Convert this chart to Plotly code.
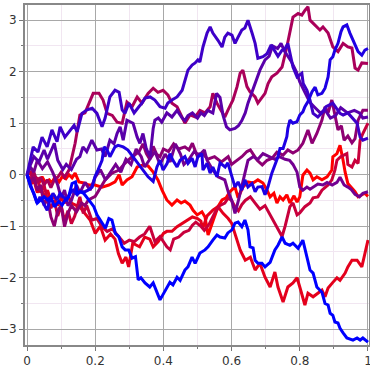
import plotly.graph_objects as go

# ---- data ----
x_red = [0,0.015,0.026,0.035,0.044,0.053,0.065,0.073,0.082,0.094,0.103,0.114,0.123,0.132,0.141,0.152,0.167,0.182,0.199,0.22,0.24,0.258,0.27,0.279,0.293,0.308,0.323,0.34,0.355,0.37,0.384,0.396,0.41,0.425,0.44,0.452,0.463,0.478,0.487,0.499,0.513,0.522,0.531,0.543,0.551,0.56,0.572,0.584,0.595,0.61,0.619,0.633,0.648,0.663,0.677,0.692,0.704,0.713,0.724,0.733,0.742,0.751,0.762,0.771,0.783,0.792,0.8,0.809,0.821,0.83,0.839,0.85,0.865,0.88,0.894,0.897,0.909,0.918,0.927,0.933,0.941,0.953,0.962,0.971,0.982,0.991,1.0]
y_red = [0,0.05,-0.06,-0.16,-0.04,-0.14,-0.1,-0.16,-0.04,-0.14,-0.04,-0.08,0,-0.06,0.03,-0.14,-0.16,-0.2,-0.2,-0.24,-0.2,-0.14,0,-0.2,-0.1,-0.04,0.15,0.19,0.17,0.05,-0.1,-0.3,-0.49,-0.59,-0.49,-0.55,-0.51,-0.59,-0.69,-0.78,-0.72,-0.82,-1.17,-0.94,-0.75,-0.62,-0.49,-0.45,-0.33,-0.24,-0.45,-0.24,-0.14,-0.16,-0.1,-0.16,-0.3,-0.43,-0.36,-0.55,-0.43,-0.49,-0.39,-0.55,-0.41,-0.53,-0.43,-0.01,0.09,0.03,-0.1,-0.04,-0.1,-0.04,0.09,0.35,0.41,0.57,0.28,0.05,-0.17,-0.27,-0.33,-0.43,-0.39,-0.36,-0.42]

x_scarlet = [0,0.01,0.02,0.03,0.04,0.05,0.06,0.07,0.08,0.09,0.1,0.11,0.12,0.13,0.155,0.17,0.185,0.2,0.215,0.229,0.245,0.258,0.268,0.279,0.29,0.298,0.31,0.33,0.345,0.36,0.37,0.385,0.4,0.41,0.425,0.44,0.455,0.47,0.485,0.5,0.51,0.515,0.528,0.545,0.56,0.575,0.59,0.6,0.615,0.625,0.64,0.655,0.669,0.683,0.698,0.713,0.727,0.736,0.751,0.765,0.78,0.792,0.8,0.815,0.824,0.839,0.853,0.865,0.874,0.883,0.897,0.909,0.918,0.933,0.941,0.953,0.968,0.982,0.991,1.0]
y_scarlet = [0,-0.2,-0.1,-0.35,-0.2,-0.45,-0.3,-0.5,-0.4,-0.6,-0.45,-0.55,-0.4,-0.55,-0.63,-0.75,-0.88,-1.14,-1.0,-1.27,-1.15,-1.25,-1.53,-1.72,-1.6,-1.79,-1.33,-1.4,-1.21,-1.25,-1.4,-1.3,-1.14,-1.1,-1.1,-1.01,-0.95,-0.88,-0.82,-0.85,-0.9,-1.05,-0.8,-0.69,-0.62,-0.75,-0.85,-0.94,-1.27,-1.46,-1.66,-1.6,-1.85,-1.72,-1.99,-2.18,-1.89,-2.18,-2.47,-2.18,-2.1,-2.0,-2.18,-2.53,-2.3,-2.37,-2.3,-2.24,-2.37,-2.2,-2.09,-2.0,-2.05,-1.91,-1.79,-1.66,-1.66,-1.79,-1.53,-1.27]

x_crimson = [0,0.01,0.02,0.03,0.04,0.05,0.06,0.07,0.08,0.09,0.1,0.11,0.12,0.13,0.14,0.155,0.165,0.175,0.19,0.205,0.22,0.235,0.25,0.27,0.285,0.3,0.315,0.33,0.345,0.36,0.375,0.39,0.4,0.41,0.42,0.43,0.445,0.46,0.475,0.485,0.495,0.51,0.52,0.535,0.55,0.565,0.58,0.59,0.6,0.61,0.62,0.63,0.64,0.655,0.669,0.683,0.698,0.713,0.727,0.742,0.748,0.757,0.765,0.771,0.78,0.792,0.8,0.815,0.83,0.839,0.853,0.865,0.883,0.894,0.903,0.909,0.92,0.938,0.941,0.953,0.962,0.971,0.977,0.985,1.0]
y_crimson = [0,0.05,-0.15,-0.05,-0.35,-0.2,-0.5,-0.65,-0.5,-0.8,-0.6,-0.9,-0.7,-0.95,-0.8,-0.43,-0.75,-0.6,-0.88,-0.85,-1.01,-1.1,-1.05,-1.21,-1.33,-1.27,-1.3,-1.21,-1.15,-1.0,-1.3,-1.2,-1.3,-1.4,-1.46,-1.25,-1.21,-1.12,-1.08,-0.98,-0.92,-1.0,-1.08,-0.95,-0.75,-0.6,-0.55,-0.45,-0.5,-0.62,-0.7,-0.58,-0.5,-0.43,-0.55,-0.67,-0.6,-0.78,-0.94,-1.14,-1.2,-1.0,-0.8,-0.62,-0.55,-0.78,-0.74,-0.62,-0.55,-0.45,-0.43,-0.3,-0.2,-0.1,0.09,0.28,0.35,0.41,0.2,0.15,0.28,0.22,0.67,0.8,1.0]

x_magenta = [0,0.01,0.02,0.03,0.04,0.05,0.06,0.07,0.08,0.09,0.1,0.11,0.123,0.132,0.141,0.155,0.17,0.182,0.194,0.211,0.223,0.235,0.25,0.264,0.279,0.293,0.308,0.323,0.337,0.355,0.37,0.384,0.399,0.413,0.425,0.44,0.455,0.463,0.478,0.493,0.507,0.522,0.537,0.545,0.557,0.566,0.58,0.589,0.604,0.616,0.625,0.633,0.645,0.654,0.669,0.677,0.692,0.698,0.707,0.718,0.733,0.748,0.762,0.771,0.78,0.795,0.806,0.815,0.824,0.83,0.839,0.85,0.859,0.868,0.883,0.897,0.912,0.927,0.941,0.953,0.962,0.971,0.982,1.0]
y_magenta = [0,-0.1,0.05,-0.15,-0.05,-0.2,-0.1,-0.25,-0.1,-0.05,0.05,-0.05,0.09,0.35,0.61,1.16,1.2,1.39,1.58,1.58,1.45,1.19,1.15,1.02,1.0,1.41,1.32,1.51,1.39,1.58,1.68,1.6,1.64,1.55,1.39,1.32,1.12,1.0,1.16,1.12,1.25,1.2,1.32,1.58,1.39,1.29,1.12,1.25,1.45,1.71,1.97,2.03,1.71,1.61,1.51,1.39,1.51,1.58,1.77,1.9,1.97,2.09,2.48,2.75,3.06,3.13,3.1,3.19,3.26,3.0,2.94,2.87,2.81,2.87,2.75,2.48,2.39,2.55,2.48,2.46,2.07,2.03,2.17,2.16]

x_purple = [0,0.01,0.02,0.03,0.04,0.05,0.06,0.07,0.08,0.09,0.1,0.11,0.12,0.13,0.145,0.16,0.17,0.18,0.2,0.215,0.229,0.249,0.27,0.287,0.308,0.328,0.34,0.35,0.36,0.37,0.38,0.39,0.4,0.415,0.43,0.445,0.463,0.475,0.485,0.5,0.515,0.53,0.55,0.57,0.59,0.6,0.615,0.63,0.645,0.655,0.675,0.69,0.704,0.719,0.733,0.751,0.765,0.78,0.795,0.809,0.824,0.836,0.85,0.865,0.874,0.883,0.894,0.903,0.912,0.922,0.93,0.941,0.953,0.962,0.971,0.985,1.0]
y_purple = [0,-0.15,-0.05,-0.3,-0.2,-0.6,-0.45,-0.82,-1.0,-0.7,-0.6,-1.01,-0.75,-0.6,-0.72,-0.55,-0.6,-0.49,-0.42,-0.24,-0.1,0.03,0.09,0.22,0.35,0.44,0.6,0.41,0.3,0.55,0.4,0.35,0.5,0.45,0.6,0.5,0.54,0.48,0.61,0.35,0.41,0.3,0.35,0.25,0.35,0.2,0.28,0.35,0.45,0.48,0.28,0.19,0.28,0.32,0.44,0.38,0.48,0.42,0.48,0.61,0.87,0.61,0.8,1.06,1.32,1.2,1.45,1.19,0.87,0.95,0.67,0.75,0.62,0.7,1.06,1.25,1.25]

x_plum = [0,0.01,0.02,0.03,0.045,0.06,0.075,0.09,0.1,0.11,0.12,0.13,0.145,0.155,0.17,0.185,0.2,0.215,0.23,0.245,0.26,0.275,0.29,0.305,0.32,0.335,0.345,0.36,0.375,0.39,0.405,0.42,0.435,0.45,0.46,0.475,0.49,0.5,0.51,0.52,0.528,0.545,0.56,0.58,0.59,0.6,0.61,0.62,0.63,0.64,0.648,0.663,0.677,0.692,0.71,0.727,0.74,0.757,0.77,0.78,0.792,0.8,0.809,0.821,0.83,0.839,0.853,0.868,0.88,0.895,0.909,0.918,0.93,0.941,0.95,0.962,0.975,0.985,1.0]
y_plum = [0,0.15,0.05,0.28,0.12,0.25,0.05,-0.2,-0.45,-0.3,-0.6,-0.5,-0.2,-0.35,-0.15,-0.3,-0.05,0.1,-0.1,0.05,0.2,0.05,0.3,0.2,0.5,0.35,0.15,0.3,0.45,0.2,0.4,0.25,0.6,0.4,0.2,0.3,0.45,0.4,0.41,0.48,0.28,0.09,-0.04,-0.1,-0.33,-0.49,-0.75,-0.5,-0.24,0.03,0.28,0.35,0.3,0.41,0.35,0.3,0.35,0.3,0.28,0.2,0.05,-0.24,-0.3,-0.24,-0.28,-0.24,-0.18,-0.2,-0.15,-0.2,-0.15,-0.05,-0.2,-0.24,-0.28,-0.38,-0.43,-0.36,-0.33]

x_violet = [0,0.008,0.02,0.035,0.05,0.06,0.08,0.09,0.105,0.115,0.13,0.145,0.155,0.164,0.175,0.19,0.205,0.218,0.229,0.243,0.255,0.264,0.273,0.282,0.293,0.311,0.323,0.331,0.34,0.35,0.361,0.37,0.375,0.385,0.395,0.41,0.425,0.44,0.455,0.463,0.472,0.485,0.5,0.51,0.52,0.53,0.545,0.556,0.566,0.575,0.585,0.595,0.61,0.62,0.63,0.64,0.648,0.66,0.669,0.683,0.698,0.71,0.72,0.735,0.745,0.755,0.765,0.775,0.79,0.8,0.815,0.83,0.845,0.86,0.875,0.89,0.905,0.92,0.94,0.96,0.975,0.985,1.0]
y_violet = [0,0.16,0.35,0.25,0.48,0.3,0.61,0.28,0.1,0.2,0.1,0.3,0.35,0.54,0.45,0.67,0.48,0.5,0.35,0.67,0.6,0.8,0.93,0.67,1.06,1.0,0.73,0.61,0.8,0.5,0.35,0.9,1.06,1.1,1.02,1.2,1.12,1.25,1.1,1.05,1.15,1.2,1.1,1.2,1.15,1.25,1.2,1.58,1.5,1.15,0.93,0.87,0.9,0.95,1.05,1.2,1.39,1.6,1.77,2.03,2.23,2.3,2.5,2.45,2.55,2.4,2.3,2.2,2.0,1.8,1.6,1.4,1.3,1.2,1.25,1.1,1.15,1.3,1.2,1.25,1.2,1.1,1.12]

x_indigo = [0,0.009,0.018,0.032,0.044,0.059,0.073,0.088,0.097,0.111,0.126,0.138,0.147,0.161,0.176,0.191,0.205,0.22,0.229,0.243,0.258,0.27,0.279,0.287,0.299,0.314,0.328,0.338,0.346,0.361,0.375,0.39,0.405,0.413,0.425,0.44,0.455,0.463,0.472,0.484,0.493,0.501,0.507,0.516,0.528,0.537,0.545,0.56,0.572,0.58,0.589,0.601,0.61,0.619,0.63,0.639,0.648,0.66,0.669,0.677,0.692,0.704,0.716,0.727,0.736,0.748,0.757,0.765,0.771,0.78,0.792,0.806,0.81,0.821,0.83,0.839,0.853,0.865,0.877,0.897,0.918,0.927,0.941,0.956,0.968,0.977,0.985,1.0]
y_indigo = [0,0.28,0.54,0.44,0.73,0.54,0.87,0.64,0.93,0.73,0.87,0.96,0.83,1.19,1.26,1.29,1.19,0.93,1.1,1.51,1.64,1.6,1.26,1.19,1.39,1.2,1.32,1.4,1.49,1.51,1.45,1.32,1.29,1.39,1.45,1.51,1.64,1.84,2.03,2.13,2.17,2.23,2.19,2.48,2.75,2.87,2.75,2.61,2.48,2.67,2.75,2.71,2.55,2.67,2.81,2.85,3.0,2.75,2.55,2.26,2.29,2.35,2.52,2.4,2.3,2.42,2.45,2.55,2.35,2.09,1.9,1.97,1.77,1.64,1.45,1.19,1.12,1.2,1.32,1.39,1.19,1.16,1.2,1.1,1.0,0.73,0.67,0.71]

x_royal = [0,0.009,0.018,0.029,0.038,0.047,0.059,0.067,0.076,0.088,0.097,0.106,0.117,0.126,0.135,0.147,0.155,0.17,0.179,0.191,0.199,0.208,0.22,0.226,0.235,0.243,0.258,0.267,0.282,0.296,0.311,0.326,0.34,0.355,0.37,0.381,0.39,0.399,0.411,0.419,0.428,0.44,0.449,0.463,0.472,0.484,0.493,0.501,0.513,0.516,0.528,0.537,0.545,0.557,0.566,0.581,0.589,0.601,0.61,0.619,0.63,0.639,0.648,0.66,0.669,0.677,0.689,0.698,0.707,0.718,0.727,0.736,0.742,0.751,0.762,0.765,0.771,0.78,0.792,0.8,0.809,0.815,0.824,0.836,0.845,0.853,0.865,0.874,0.883,0.889,0.897,0.903,0.912,0.921,0.927,0.938,0.947,0.959,0.971,0.982,0.991,1.0]
y_royal = [0,-0.16,-0.36,-0.55,-0.43,-0.55,-0.69,-0.49,-0.36,-0.49,-0.36,-0.43,-0.49,-0.36,-0.3,-0.39,-0.33,-0.33,-0.3,-0.24,-0.04,0.09,0.28,0.54,0.48,0.35,0.54,0.57,0.54,0.48,0.35,0.22,0.09,-0.04,-0.13,0.15,0.28,0.09,0.22,0.41,0.28,0.15,0.28,0.35,0.22,0.32,0.15,0.35,0.41,0.09,0.22,0.03,0.15,-0.04,0.23,0.15,0.23,-0.04,-0.24,-0.14,-0.3,-0.1,-0.24,-0.17,-0.33,-0.24,-0.23,-0.39,-0.23,0.03,0.19,0.35,0.51,0.51,0.74,0.9,1.06,1.0,1.03,1.16,1.22,1.32,1.42,1.61,1.7,1.55,1.58,1.68,1.9,2.23,2.29,2.42,2.55,2.78,2.87,2.91,2.75,2.58,2.39,2.32,2.42,2.45]

x_blue = [0,0.01,0.02,0.03,0.04,0.05,0.06,0.07,0.08,0.093,0.103,0.112,0.122,0.132,0.142,0.147,0.156,0.166,0.181,0.196,0.205,0.215,0.23,0.24,0.249,0.259,0.269,0.279,0.288,0.298,0.308,0.318,0.326,0.334,0.346,0.36,0.37,0.39,0.405,0.419,0.428,0.44,0.449,0.463,0.472,0.484,0.493,0.507,0.522,0.531,0.545,0.557,0.566,0.58,0.589,0.601,0.61,0.619,0.63,0.639,0.648,0.654,0.663,0.669,0.677,0.689,0.698,0.713,0.727,0.736,0.748,0.757,0.771,0.78,0.795,0.809,0.821,0.83,0.839,0.85,0.865,0.874,0.883,0.889,0.897,0.903,0.912,0.918,0.927,0.938,0.956,0.968,0.977,0.985,1.0]
y_blue = [0,-0.23,-0.36,-0.55,-0.49,-0.43,-0.49,-0.43,-0.62,-0.52,-0.59,-0.49,-0.43,-0.17,-0.14,-0.36,-0.33,-0.36,-0.49,-0.62,-0.78,-0.88,-1.04,-0.85,-0.88,-1.14,-1.2,-1.4,-1.46,-1.46,-1.62,-1.59,-2.04,-2.0,-2.1,-2.18,-2.1,-2.43,-2.24,-2.09,-2.14,-1.99,-2.05,-1.85,-1.79,-1.6,-1.72,-1.52,-1.46,-1.4,-1.27,-1.17,-1.21,-1.23,-1.13,-1.07,-0.94,-0.92,-1.01,-0.88,-1.07,-1.4,-1.42,-1.66,-1.72,-1.72,-1.79,-1.7,-1.46,-1.37,-1.21,-1.33,-1.37,-1.33,-1.43,-1.27,-1.6,-1.85,-1.91,-2.18,-2.28,-2.5,-2.53,-2.69,-2.73,-2.86,-2.88,-2.98,-3.07,-3.17,-3.21,-3.17,-3.21,-3.17,-3.25]

series = [
    (x_red, y_red, "rgb(255,0,0)"),
    (x_scarlet, y_scarlet, "rgb(228,0,28)"),
    (x_crimson, y_crimson, "rgb(200,0,60)"),
    (x_magenta, y_magenta, "rgb(170,0,90)"),
    (x_purple, y_purple, "rgb(142,0,115)"),
    (x_plum, y_plum, "rgb(115,0,145)"),
    (x_violet, y_violet, "rgb(90,0,170)"),
    (x_indigo, y_indigo, "rgb(62,0,200)"),
    (x_royal, y_royal, "rgb(30,0,228)"),
    (x_blue, y_blue, "rgb(0,0,255)"),
]

fig = go.Figure()
for xs, ys, col in series:
    fig.add_trace(go.Scatter(x=xs, y=ys, mode="lines",
                             line=dict(color=col, width=3), hoverinfo="skip"))

axis_common = dict(
    automargin=False,
    showline=True, linecolor="#888888", linewidth=2, mirror=True,
    ticks="outside", ticklen=4, tickcolor="#777777", tickwidth=1,
    showgrid=True, gridcolor="#a8a8a8", gridwidth=1,
    zeroline=False, ticklabeloverflow="allow",
    tickfont=dict(family="DejaVu Sans", size=12, color="#333333"),
)

fig.update_layout(
    width=370, height=370,
    margin=dict(l=25, r=1, t=5, b=25),
    plot_bgcolor="white", paper_bgcolor="white",
    showlegend=False,
    xaxis=dict(range=[-0.006, 1.003], tickmode="array",
               tickvals=[0, 0.2, 0.4, 0.6, 0.8, 1.0],
               ticktext=["0", "0.2", "0.4", "0.6", "0.8", "1"],
               minor=dict(dtick=0.1, tick0=0, showgrid=True, gridcolor="#f1e6f1",
                          ticks="outside", ticklen=2, tickcolor="#777777"),
               **axis_common),
    yaxis=dict(range=[-3.306, 3.295], tickmode="array",
               tickvals=[-3, -2, -1, 0, 1, 2, 3],
               ticktext=["\u22123", "\u22122", "\u22121", "0", "1", "2", "3"],
               minor=dict(dtick=0.5, tick0=0, showgrid=True, gridcolor="#f1e6f1",
                          ticks="outside", ticklen=2, tickcolor="#777777"),
               **axis_common),
)

fig.write_html("out.html", config={"displayModeBar": False, "staticPlot": True},
               post_script="document.body.style.margin='0';document.body.style.overflow='hidden';")
